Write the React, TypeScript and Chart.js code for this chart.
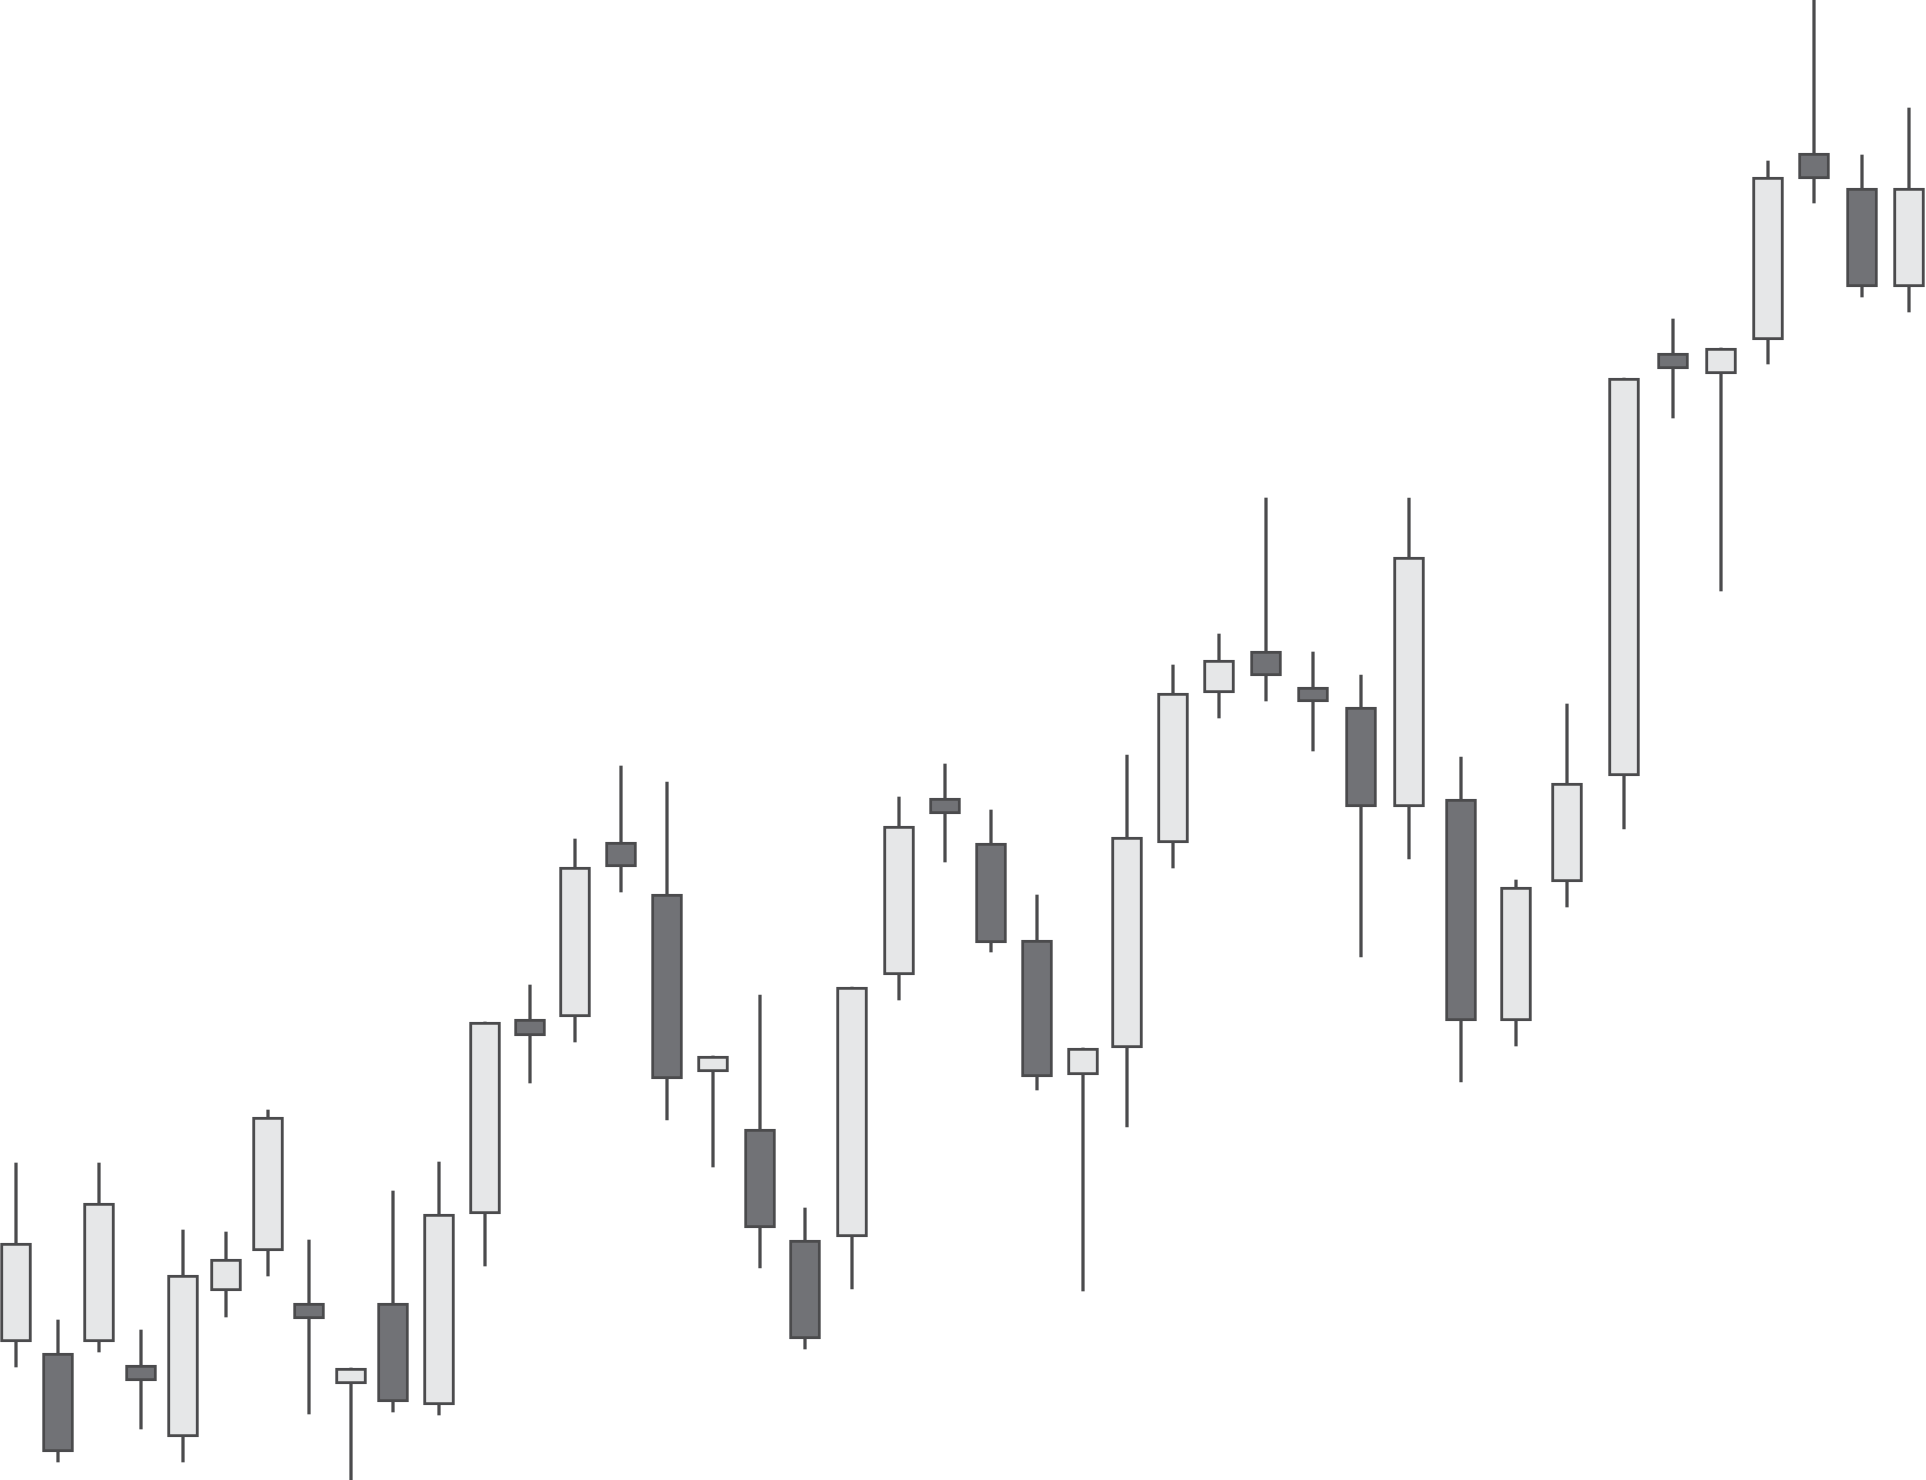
import React, { useEffect, useRef } from "react";
import { Chart, registerables } from "chart.js";

Chart.register(...registerables);

// Session index (time position of each candle)
const sessions = [
  1.6, 5.8, 9.9, 14.1, 18.3, 22.6, 26.8, 30.9, 35.1, 39.3,
  43.9, 48.5, 53.0, 57.5, 62.1, 66.7, 71.3, 76.0, 80.5, 85.2,
  89.9, 94.5, 99.1, 103.7, 108.3, 112.7, 117.3, 121.9, 126.6, 131.3,
  136.1, 140.9, 146.1, 151.6, 156.7, 162.4, 167.3, 172.1, 176.8, 181.4,
  186.2, 190.9,
];

const opens = [
  13.8, 12.7, 13.8, 11.5, 4.3, 18.9, 22.9, 17.7, 9.6, 17.7,
  7.5, 26.6, 46.1, 46.3, 63.8, 58.6, 40.8, 35.1, 24.0, 24.3,
  50.5, 68.2, 63.7, 54.0, 40.5, 43.2, 63.7, 78.7, 82.9, 79.3,
  77.3, 67.3, 68.1, 45.9, 59.8, 70.4, 112.7, 110.6, 114.0, 132.7,
  129.2, 119.3,
];

const highs = [
  31.7, 16.0, 31.7, 15.0, 25.0, 24.8, 37.0, 24.0, 11.2, 28.9,
  31.8, 45.8, 49.5, 64.1, 71.4, 69.8, 42.4, 48.5, 27.2, 49.3,
  68.3, 71.6, 67.0, 58.5, 43.2, 72.5, 81.5, 84.6, 98.2, 82.8,
  80.5, 98.2, 72.3, 60.0, 77.6, 110.2, 116.1, 113.2, 131.9, 148.0,
  132.5, 137.2,
];

const lows = [
  11.3, 1.8, 12.8, 5.1, 1.8, 16.3, 20.4, 6.6, 0.0, 6.8,
  6.5, 21.4, 39.7, 43.8, 58.8, 36.0, 31.3, 21.2, 13.1, 19.1,
  48.0, 61.8, 52.8, 39.0, 18.9, 35.3, 61.2, 76.2, 77.9, 72.9,
  52.3, 62.1, 39.8, 43.4, 57.3, 65.1, 106.2, 88.9, 111.6, 127.7,
  118.3, 116.8,
];

const closes = [
  23.7, 2.8, 27.7, 9.9, 20.5, 22.1, 36.3, 16.1, 11.2, 7.8,
  26.6, 45.8, 44.4, 61.3, 61.3, 40.1, 42.4, 25.2, 14.1, 49.3,
  65.4, 66.6, 53.7, 40.3, 43.2, 64.3, 78.7, 82.0, 80.4, 77.8,
  67.3, 92.3, 45.9, 59.3, 69.7, 110.2, 111.1, 113.2, 130.3, 130.1,
  119.3, 129.2,
];

const UP_FILL = "#e6e7e8";
const DOWN_FILL = "#717276";
const EDGE = "#4b4b4d";

export default function App() {
  const canvasRef = useRef<HTMLCanvasElement | null>(null);

  useEffect(() => {
    document.body.style.margin = "0";
    const canvas = canvasRef.current;
    if (!canvas) return;

    const bodies = sessions.map((x, i) => ({ x, y: [opens[i], closes[i]] }));
    const wicks = sessions.map((x, i) => ({ x, y: [lows[i], highs[i]] }));
    const fills = sessions.map((_, i) => (closes[i] >= opens[i] ? UP_FILL : DOWN_FILL));

    const chart = new Chart(canvas, {
      type: "bar",
      data: {
        datasets: [
          {
            label: "wick",
            data: wicks as any,
            backgroundColor: EDGE,
            borderWidth: 0,
            barThickness: 2.6,
            grouped: false,
            order: 2,
          } as any,
          {
            label: "body",
            data: bodies as any,
            backgroundColor: fills,
            borderColor: EDGE,
            borderWidth: 3,
            borderSkipped: false,
            barThickness: 31,
            grouped: false,
            order: 1,
          } as any,
        ],
      },
      options: {
        responsive: false,
        animation: false,
        devicePixelRatio: 1,
        layout: { padding: 0 },
        plugins: {
          legend: { display: false },
          tooltip: { enabled: false },
        },
        scales: {
          x: {
            type: "linear",
            min: 0,
            max: 192.6,
            offset: false,
            display: false,
            grid: { display: false, offset: false },
          },
          y: {
            type: "linear",
            min: 0,
            max: 148,
            display: false,
            grid: { display: false },
          },
        },
      },
    });

    return () => {
      chart.destroy();
    };
  }, []);

  return (
    <div style={{ width: 1926, height: 1480, background: "#ffffff" }}>
      <canvas ref={canvasRef} width={1926} height={1480} style={{ display: "block" }} />
    </div>
  );
}
